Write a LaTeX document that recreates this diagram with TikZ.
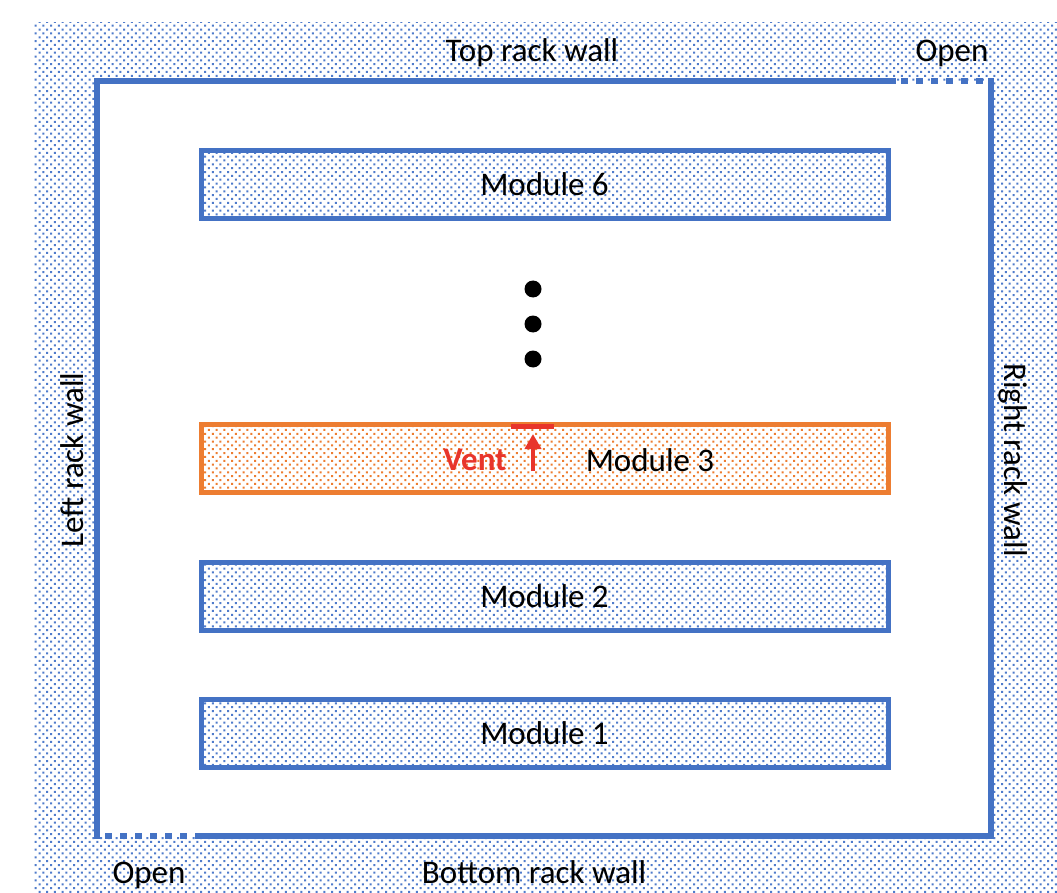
\documentclass[tikz,border=0pt]{standalone}
\usepackage{fontspec}
\setmainfont{Carlito}
\usetikzlibrary{patterns,arrows.meta}
\pgfdeclarepatternformonly{rackdots}{\pgfqpoint{-1pt}{-1pt}}{\pgfqpoint{8pt}{8pt}}{\pgfqpoint{7.7pt}{7.7pt}}{%
 \pgfpathrectangle{\pgfqpoint{0pt}{0pt}}{\pgfqpoint{2pt}{2pt}}%
 \pgfpathrectangle{\pgfqpoint{3.85pt}{3.85pt}}{\pgfqpoint{2pt}{2pt}}%
 \pgfusepath{fill}}
\definecolor{rackblue}{HTML}{4472C4}
\definecolor{modorange}{HTML}{ED7D31}
\definecolor{ventred}{HTML}{E8352B}
\definecolor{dotblue}{HTML}{4F7BCB}
\begin{document}
\begin{tikzpicture}[x=1pt,y=-1pt,
  font=\fontsize{33}{40}\selectfont,
  wall/.style={draw=rackblue, line width=5.5pt, line cap=rect},
  openwall/.style={draw=rackblue, line width=5.5pt, line cap=butt, dash pattern=on 7pt off 8pt, dash phase=7pt},
  module/.style={draw=rackblue, line width=5pt, preaction={fill=white}, pattern=rackdots, pattern color=dotblue, minimum width=687pt, minimum height=68pt, inner sep=0pt},
  hotmodule/.style={module, draw=modorange, pattern color=modorange},
  lbl/.style={inner sep=0pt, anchor=base},
  ellipsisdot/.style={circle, fill=black, minimum size=17pt, inner sep=0pt},
  ventline/.style={draw=ventred, line width=5pt},
  ventarrow/.style={draw=ventred, line width=4pt, -{Triangle[length=15pt,width=16pt]}}
]
\useasboundingbox (0,0) rectangle (1057,893);
\fill[white] (0,0) rectangle (1057,893);
\fill[pattern=rackdots, pattern color=dotblue] (33,23) rectangle (1057,893);
\fill[white] (97,81) rectangle (991,836);

% rack corners
\coordinate (tl) at (97,81);
\coordinate (tr) at (991,81);
\coordinate (bl) at (97,836);
\coordinate (br) at (991,836);
\coordinate (topopen) at (893,81);
\coordinate (botopen) at (201,836);

\draw[wall] (topopen) -- (tl) -- (bl);
\draw[wall] (botopen) -- (br) -- (tr);
\draw[openwall] (topopen) -- (tr);
\draw[openwall] (bl) -- (botopen);

% modules
\node[module] (m6) at (544.5,184.3) {Module 6};
\node[hotmodule] (m3) at (544.5,458.5) {};
\node[module] (m2) at (544.5,596.5) {Module 2};
\node[module] (m1) at (544.5,733.5) {Module 1};
\node[inner sep=0pt] (m3lbl) at (650,460) {Module 3};

% ellipsis
\node[ellipsisdot] (d1) at (533,289) {};
\node[ellipsisdot] (d2) at (533,324) {};
\node[ellipsisdot] (d3) at (533,359) {};

% vent
\coordinate (ventL) at (511,426);
\coordinate (ventR) at (554,426);
\draw[ventline] (ventL) -- (ventR);
\coordinate (arrS) at (533,471);
\coordinate (arrE) at (533,434);
\draw[ventarrow] (arrS) -- (arrE);
\node[inner sep=0pt, text=ventred, font=\fontsize{33}{40}\selectfont\bfseries] (vent) at (475,460) {Vent};

% wall labels
\node[lbl] (toplbl) at (532,62) {Top rack wall};
\node[lbl] (topopenlbl) at (952,62) {Open};
\node[lbl] (botlbl) at (534,883) {Bottom rack wall};
\node[lbl] (botopenlbl) at (149,883) {Open};
\node[lbl, rotate=90] (leftlbl) at (83,460) {Left rack wall};
\node[lbl, rotate=-90] (rightlbl) at (1004,460) {Right rack wall};
\end{tikzpicture}
\end{document}
